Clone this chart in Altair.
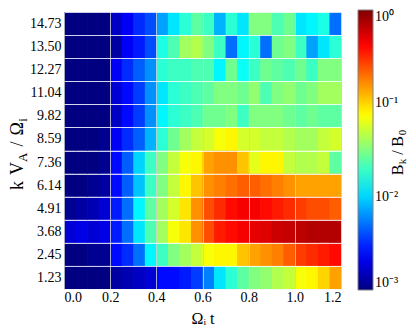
import altair as alt
import pandas as pd

# time axis: column edges every 0.05 from 0 to 1.2
t_edges = [round(0.05 * i, 2) for i in range(25)]

# k V_A / Omega_i rows (bottom to top)
k_labels = ["1.23", "2.45", "3.68", "4.91", "6.14", "7.36",
            "8.59", "9.82", "11.04", "12.27", "13.50", "14.73"]

# log10(B_k / B_0) per row, 24 time columns
row_1_23 = [-3.0, -3.0, -3.0, -3.0, -2.9, -2.85, -2.8, -2.75, -2.6, -2.6, -2.55, -2.45,
            -2.25, -1.95, -1.75, -1.6, -1.5, -1.45, -1.35, -1.3, -1.15, -1.1, -1.0, -0.85]
row_2_45 = [-3.0, -3.0, -2.95, -2.95, -2.6, -2.5, -2.3, -1.9, -1.7, -1.5, -1.4, -1.3,
            -1.15, -1.1, -1.1, -0.95, -0.85, -0.8, -0.75, -0.65, -0.55, -0.5, -0.45, -0.4]
row_3_68 = [-2.75, -2.7, -2.75, -2.7, -2.55, -2.3, -1.95, -1.65, -1.4, -1.15, -1.05, -0.8,
            -0.6, -0.45, -0.4, -0.35, -0.3, -0.28, -0.22, -0.2, -0.18, -0.15, -0.15, -0.15]
row_4_91 = [-2.95, -2.9, -2.85, -2.75, -2.55, -2.3, -1.9, -1.6, -1.4, -1.25, -1.05, -0.8,
            -0.6, -0.5, -0.4, -0.35, -0.35, -0.4, -0.45, -0.5, -0.55, -0.6, -0.6, -0.65]
row_6_14 = [-3.0, -3.0, -2.95, -2.9, -2.6, -2.35, -2.05, -1.7, -1.5, -1.3, -1.1, -0.95,
            -0.8, -0.75, -0.7, -0.65, -0.65, -0.7, -0.75, -0.8, -0.85, -0.85, -0.85, -0.85]
row_7_36 = [-3.0, -3.0, -3.0, -2.95, -2.6, -2.35, -2.0, -1.7, -1.5, -1.3, -1.15, -1.1,
            -0.85, -0.8, -0.8, -0.95, -1.2, -1.1, -1.1, -1.3, -1.35, -1.35, -1.3, -1.6]
row_8_59 = [-3.0, -3.0, -3.0, -2.95, -2.65, -2.5, -2.35, -2.1, -1.75, -1.55, -1.4, -1.3,
            -1.25, -1.15, -1.1, -1.25, -1.25, -1.3, -1.3, -1.35, -1.4, -1.4, -1.3, -1.25]
row_9_82 = [-3.0, -3.0, -3.0, -3.0, -2.8, -2.6, -2.45, -2.2, -1.9, -1.75, -1.7, -1.65,
            -1.55, -1.55, -1.5, -1.7, -1.5, -1.5, -1.5, -1.55, -1.6, -1.55, -1.6, -1.6]
row_11_04 = [-3.0, -3.0, -3.0, -3.0, -2.75, -2.6, -2.45, -2.2, -1.95, -1.75, -1.7, -1.65,
             -1.6, -1.5, -1.5, -1.55, -1.45, -1.65, -1.5, -1.45, -1.55, -1.5, -1.4, -1.4]
row_12_27 = [-3.0, -3.0, -3.0, -3.0, -2.65, -2.5, -2.35, -2.2, -1.75, -1.7, -1.7, -1.65,
             -1.65, -1.9, -1.55, -1.85, -1.7, -1.55, -1.6, -1.65, -1.55, -1.7, -1.5, -1.5]
row_13_50 = [-3.0, -3.0, -3.0, -3.0, -2.9, -2.65, -2.55, -2.4, -1.8, -1.65, -1.4, -1.35,
             -1.5, -1.7, -2.3, -1.9, -1.75, -2.3, -1.55, -1.5, -1.7, -2.15, -1.95, -1.75]
row_14_73 = [-3.0, -3.0, -3.0, -3.0, -2.8, -2.65, -2.5, -2.4, -2.15, -1.95, -1.75, -1.6,
             -1.7, -2.1, -1.75, -1.95, -1.5, -1.5, -1.65, -1.55, -1.95, -1.9, -1.8, -2.3]

rows = [row_1_23, row_2_45, row_3_68, row_4_91, row_6_14, row_7_36,
        row_8_59, row_9_82, row_11_04, row_12_27, row_13_50, row_14_73]

# colour bar: jet colormap on log scale 1e-3 .. 1
jet_colors = ["#000080", "#0000ff", "#0080ff", "#00ffff", "#80ff80",
              "#ffff00", "#ff8000", "#ff0000", "#800000"]
jet_domain = [10 ** (-3 + 3 * i / 8) for i in range(9)]
legend_values = [0.001, 0.01, 0.1, 1]

records = []
for lab, vals in zip(k_labels, rows):
    for j, v in enumerate(vals):
        records.append({"k": lab, "t0": t_edges[j], "t1": t_edges[j + 1], "B": 10 ** v})
df = pd.DataFrame(records)

FONT = "Liberation Serif"
jet_scale = alt.Scale(type="log", domain=jet_domain, range=jet_colors, interpolate="rgb")

heat = alt.Chart(df).mark_rect(strokeWidth=0, x2Offset=0.7, clip=True).encode(
    x=alt.X("t0:Q", scale=alt.Scale(domain=[0, 1.2], nice=False, zero=False),
            axis=alt.Axis(title="Ωᵢ t", values=[0, 0.2, 0.4, 0.6, 0.8, 1.0, 1.2], format=".1f",
                          grid=True, gridColor="#d0d0d0", gridOpacity=0.8, gridWidth=1,
                          ticks=False, domain=False, labelPadding=1, zindex=1,
                          labelFont=FONT, labelFontSize=14, titleFont=FONT,
                          titleFontSize=16, titleFontWeight="normal", titlePadding=6,
                          labelColor="#000", titleColor="#000")),
    x2="t1:Q",
    y=alt.Y("k:O", sort=list(reversed(k_labels)),
            scale=alt.Scale(paddingInner=0, paddingOuter=0),
            axis=alt.Axis(title=None, grid=True, tickBand="extent",
                          gridColor="#ffffff", gridOpacity=0.8, gridWidth=1,
                          ticks=False, domain=False, labelPadding=3, zindex=1,
                          labelFont=FONT, labelFontSize=14, labelColor="#000")),
    color=alt.Color("B:Q", scale=jet_scale,
                    legend=alt.Legend(title=None, orient="none", legendX=294, legendY=-2,
                                      type="gradient",
                                      values=legend_values, gradientLength=280,
                                      gradientThickness=15, gradientStrokeColor="#808080",
                                      gradientStrokeWidth=1, labelOffset=2,
                                      labelExpr="datum.value >= 1 ? '10⁰' : datum.value >= 0.1 ? '10⁻¹' : datum.value >= 0.01 ? '10⁻²' : '10⁻³'",
                                      labelFont=FONT, labelFontSize=14, labelColor="#000",
                                      labelOverlap=False)),
)

one = pd.DataFrame({"s": [""]})


def piece(txt, x, y, size):
    return alt.Chart(one).mark_text(
        text=txt, angle=270, font=FONT, fontSize=size, color="#000",
        align="center", baseline="alphabetic"
    ).encode(x=alt.value(x), y=alt.value(y))


# y-axis title  k V_A / Omega_i  (rotated, with subscripts)
ytitle = [
    piece("k", -41, 173.5, 18),
    piece("V", -41, 156.5, 18),
    piece("A", -37.5, 145.3, 13),
    piece("/", -41, 132.1, 18),
    piece("Ω", -41, 116.7, 18),
    piece("i", -37.5, 108, 13),
]

# colour bar title  B_k / B_0
ctitle = [
    piece("B", 338.5, 158, 16),
    piece("k", 341.5, 149.5, 11),
    piece("/", 338.5, 140.5, 16),
    piece("B", 338.5, 129.5, 16),
    piece("0", 341.5, 120.5, 11),
]

chart = alt.layer(heat, *ytitle, *ctitle).properties(
    width=277, height=277,
    padding={"left": 56, "top": 4, "right": 67, "bottom": 40},
    autosize="none",
).configure_view(stroke="#808080", strokeWidth=1).configure(background="white")

chart.save("out.html", embed_options={"renderer": "svg", "actions": False})
